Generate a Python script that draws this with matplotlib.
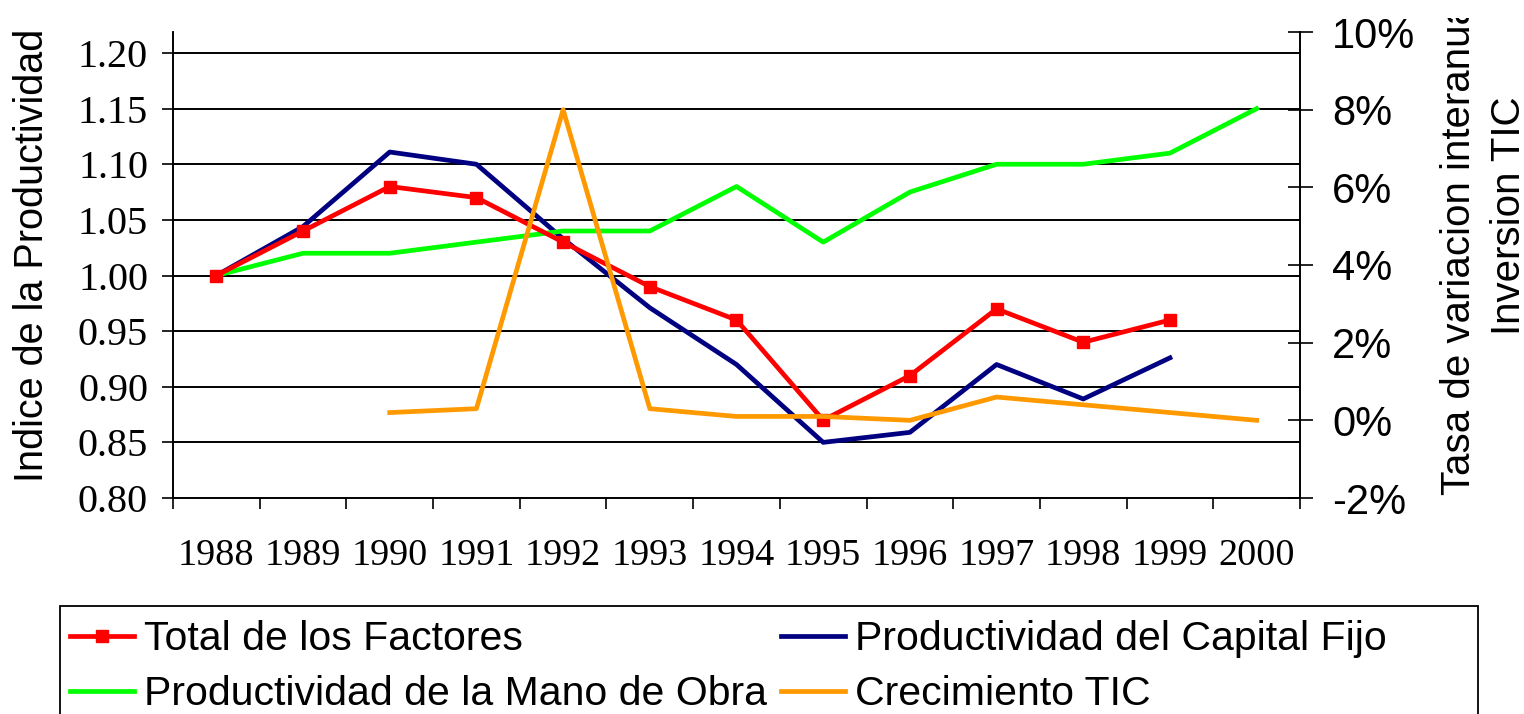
import matplotlib.pyplot as plt
from matplotlib.patches import Rectangle
from matplotlib.transforms import Bbox, TransformedBbox
import numpy as np

years = ['1988', '1989', '1990', '1991', '1992', '1993', '1994',
         '1995', '1996', '1997', '1998', '1999', '2000']
total_factores = [1.00, 1.04, 1.08, 1.07, 1.03, 0.99, 0.96,
                  0.87, 0.91, 0.97, 0.94, 0.96, np.nan]
capital_fijo = [1.00, 1.044, 1.111, 1.10, 1.033, 0.971, 0.92,
                0.85, 0.859, 0.92, 0.889, 0.926, np.nan]
mano_obra = [1.00, 1.02, 1.02, 1.03, 1.04, 1.04, 1.08,
             1.03, 1.075, 1.10, 1.10, 1.11, 1.15]
# crecimiento TIC, en %
tic = [np.nan, np.nan, 0.2, 0.3, 8.0, 0.3, 0.1,
       0.1, 0.0, 0.6, 0.4, 0.2, 0.0]

left_ticks = [0.80, 0.85, 0.90, 0.95, 1.00, 1.05, 1.10, 1.15, 1.20]
right_ticks = [-2, 0, 2, 4, 6, 8, 10]

serif = 'Liberation Serif'
sans = 'Liberation Sans'
fs = 29

W, H = 1524, 714
fig = plt.figure(figsize=(W / 100, H / 100), dpi=100)
ax = fig.add_axes([173 / W, 1 - 498 / H, 1127 / W, 466 / H])
ax2 = ax.twinx()

x = np.arange(len(years))

# lineas de rejilla
for v in left_ticks[1:]:
    ax.axhline(v, color='black', lw=1.4, zorder=1)

ax.plot(x, capital_fijo, color='#000080', lw=3.4, zorder=3,
        label='Productividad del Capital Fijo')
ax.plot(x, mano_obra, color='#00FF00', lw=3.4, zorder=3,
        label='Productividad de la Mano de Obra')
ax.plot(x, total_factores, color='#FF0000', lw=3.4, marker='s', ms=8.5,
        zorder=4, label='Total de los Factores')
ax2.plot(x, tic, color='#FF9900', lw=3.4, label='Crecimiento TIC')

ax.set_xlim(-0.5, len(years) - 0.5)
ax.set_ylim(0.80, 0.80 + 0.40 * 466 / 445)
ax2.set_ylim(-2, 10)

ax.set_yticks(left_ticks)
ax.set_yticklabels([f'{v:.2f}' for v in left_ticks], family=serif, fontsize=29)
ax.tick_params(axis='y', direction='out', length=8, width=1.2, pad=10)

ax2.set_yticks(right_ticks)
ax2.set_yticklabels([f'{v}%' for v in right_ticks], family=sans, fontsize=30)
ax2.tick_params(axis='y', direction='inout', length=18, width=1.2, pad=14)

ax.set_xticks(x)
ax.set_xticklabels(years, family=serif, fontsize=27.5)
ax.set_xticks(np.arange(len(years) + 1) - 0.5, minor=True)
ax.tick_params(axis='x', which='major', length=0, pad=29)
ax.tick_params(axis='x', which='minor', direction='out', length=8, width=1.2)

for a in (ax, ax2):
    a.spines['top'].set_visible(False)
    for s in ('left', 'right', 'bottom'):
        a.spines[s].set_linewidth(1.2)

fig.text(32 / W, 1 - 255 / H, 'Indice de la Productividad', rotation=90,
         ha='center', va='center', family=sans, fontsize=28.5)

# titulo del eje derecho, recortado arriba como en el original
clip = TransformedBbox(Bbox([[0, 0], [1, 1 - 18 / H]]), fig.transFigure)
t1 = fig.text(1459 / W, 1 - 244 / H, 'Tasa de variacion interanual', rotation=90,
              ha='center', va='center', family=sans, fontsize=fs)
t2 = fig.text(1509 / W, 1 - 216 / H, 'Inversion TIC', rotation=90,
              ha='center', va='center', family=sans, fontsize=fs)
t1.set_clip_box(clip)
t1.set_clip_on(True)

# leyenda
h1, l1 = ax.get_legend_handles_labels()
h2, l2 = ax2.get_legend_handles_labels()
hd = dict(zip(l1 + l2, h1 + h2))
order = ['Total de los Factores', 'Productividad de la Mano de Obra',
         'Productividad del Capital Fijo', 'Crecimiento TIC']
fig.legend([hd[k] for k in order], order, ncol=2, loc='upper left',
           bbox_to_anchor=(70 / W, 1 - 620 / H), frameon=False,
           prop={'family': sans, 'size': 29.5}, borderpad=0, borderaxespad=0,
           handlelength=1.55, handletextpad=0.25, columnspacing=0.35,
           labelspacing=0.42)
fig.add_artist(Rectangle((60 / W, -0.05), (1478 - 60) / W, (714 - 606) / H + 0.05,
                         transform=fig.transFigure, fill=False,
                         ec='black', lw=1.3))

fig.savefig('out.png', dpi=100)
